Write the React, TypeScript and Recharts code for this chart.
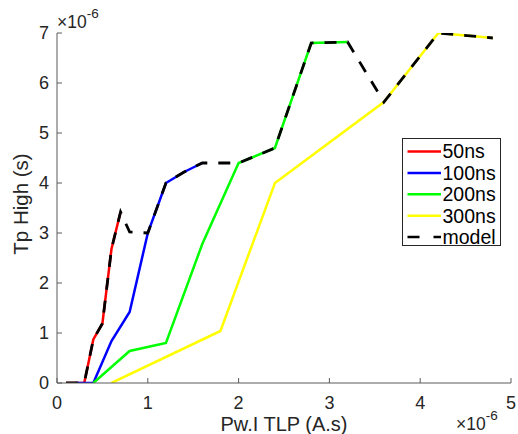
import React from 'react';
import { LineChart, Line, XAxis, YAxis, Legend, Label } from 'recharts';

type P = { x: number; y: number };

const xTicks = [0, 1, 2, 3, 4, 5];
const yTicks = [0, 1, 2, 3, 4, 5, 6, 7];

const s50: P[] = [
  { x: 0.1, y: 0 }, { x: 0.3, y: 0 }, { x: 0.4, y: 0.87 }, { x: 0.5, y: 1.19 },
  { x: 0.6, y: 2.68 }, { x: 0.7, y: 3.42 },
];
const s100: P[] = [
  { x: 0.2, y: 0 }, { x: 0.4, y: 0 }, { x: 0.6, y: 0.84 }, { x: 0.8, y: 1.42 },
  { x: 1.0, y: 3.0 }, { x: 1.2, y: 4.0 }, { x: 1.4, y: 4.22 }, { x: 1.6, y: 4.4 },
];
const s200: P[] = [
  { x: 0.4, y: 0 }, { x: 0.8, y: 0.64 }, { x: 1.2, y: 0.8 }, { x: 1.6, y: 2.78 },
  { x: 2.0, y: 4.4 }, { x: 2.4, y: 4.7 }, { x: 2.8, y: 6.8 }, { x: 3.2, y: 6.82 },
];
const s300: P[] = [
  { x: 0.6, y: 0 }, { x: 1.8, y: 1.04 }, { x: 2.4, y: 4.0 }, { x: 3.6, y: 5.62 },
  { x: 4.2, y: 7.0 }, { x: 4.8, y: 6.9 },
];
const model: P[] = [
  { x: 0.1, y: 0 }, { x: 0.3, y: 0 }, { x: 0.4, y: 0.87 }, { x: 0.5, y: 1.19 },
  { x: 0.6, y: 2.68 }, { x: 0.7, y: 3.42 }, { x: 0.8, y: 3.02 }, { x: 1.0, y: 3.0 },
  { x: 1.2, y: 4.0 }, { x: 1.4, y: 4.22 }, { x: 1.6, y: 4.4 }, { x: 2.0, y: 4.4 },
  { x: 2.4, y: 4.7 }, { x: 2.8, y: 6.8 }, { x: 3.2, y: 6.82 }, { x: 3.6, y: 5.62 },
  { x: 4.2, y: 7.0 }, { x: 4.8, y: 6.9 },
];

const seriesNames = ['50ns', '100ns', '200ns', '300ns', 'model'];
const seriesColors = ['#ff0000', '#0000ff', '#00ff00', '#ffff00', '#000000'];

const FONT = '"Liberation Sans", Arial, Helvetica, sans-serif';
const AXIS = '#5a5a5a';
const TEXT = '#262626';
const DASH = '12 11';
const TICK_LEN = 5;
const XM = 13;
const YM = 8;
const TICK_FS = 18;

const BottomTick = (props: any) => {
  const { x, y, payload } = props;
  const ay = y - XM;
  return (
    <g>
      <line x1={x} x2={x} y1={ay} y2={ay - TICK_LEN} stroke={AXIS} strokeWidth={1} />
      <text x={x} y={y} dy="0.71em" textAnchor="middle" fontSize={TICK_FS} fontFamily={FONT} fill={TEXT}>
        {payload.value}
      </text>
    </g>
  );
};

const LeftTick = (props: any) => {
  const { x, y, payload } = props;
  const ax = x + YM;
  return (
    <g>
      <line x1={ax} x2={ax + TICK_LEN} y1={y} y2={y} stroke={AXIS} strokeWidth={1} />
      <text x={x} y={y} dy="0.355em" textAnchor="end" fontSize={TICK_FS} fontFamily={FONT} fill={TEXT}>
        {payload.value}
      </text>
    </g>
  );
};

const TopTick = (props: any) => {
  const { x, y } = props;
  return <line x1={x} x2={x} y1={y} y2={y + TICK_LEN} stroke={AXIS} strokeWidth={1} />;
};

const RightTick = (props: any) => {
  const { x, y } = props;
  return <line x1={x - TICK_LEN} x2={x} y1={y} y2={y} stroke={AXIS} strokeWidth={1} />;
};

const LegendBox = () => (
  <svg width={99} height={109} style={{ display: 'block' }}>
    <rect x={0.5} y={0.5} width={98} height={107} fill="#fff" stroke={TEXT} strokeWidth={1} />
    {seriesNames.map((n, i) => {
      const cy = 13.5 + i * 21.4;
      return (
        <g key={n}>
          <line
            x1={5.5}
            x2={39}
            y1={cy}
            y2={cy}
            stroke={seriesColors[i]}
            strokeWidth={2.5}
            strokeDasharray={i === 4 ? '12 14' : undefined}
          />
          <text x={40.5} y={cy + 6.8} fontSize={19.5} fontFamily={FONT} fill="#000">
            {n}
          </text>
        </g>
      );
    })}
  </svg>
);

export default function App() {
  return (
    <div style={{ position: 'absolute', left: 0, top: 0, width: 518, height: 434, background: '#fff' }}>
      <LineChart
        width={518}
        height={434}
        margin={{ top: 33, right: 7, bottom: 0, left: 0 }}
        style={{ fontFamily: FONT }}
      >
        <XAxis
          xAxisId={0}
          dataKey="x"
          type="number"
          domain={[0, 5]}
          ticks={xTicks}
          allowDataOverflow
          height={51}
          tickSize={0}
          tickMargin={XM}
          stroke={AXIS}
          tickLine={false}
          tick={<BottomTick />}
        >
          <Label
            value="Pw.I TLP (A.s)"
            position="insideBottom"
            offset={3}
            style={{ fill: TEXT, fontSize: 20, fontFamily: FONT }}
          />
        </XAxis>
        <XAxis
          xAxisId="top"
          orientation="top"
          dataKey="x"
          type="number"
          domain={[0, 5]}
          ticks={xTicks}
          height={0}
          tickSize={0}
          tickMargin={0}
          tickLine={false}
          tick={<TopTick />}
          stroke={AXIS}
        />
        <YAxis
          yAxisId={0}
          type="number"
          domain={[0, 7]}
          ticks={yTicks}
          allowDataOverflow
          width={57}
          tickSize={0}
          tickMargin={YM}
          stroke={AXIS}
          tickLine={false}
          tick={<LeftTick />}
        >
          <Label
            content={(props: any) => {
              const vb = props.viewBox || { y: 33, height: 350 };
              const cx = 28;
              const cy = vb.y + vb.height / 2 - 4;
              return (
                <text
                  x={cx}
                  y={cy}
                  transform={`rotate(-90 ${cx} ${cy})`}
                  textAnchor="middle"
                  fontSize={20.5}
                  fontFamily={FONT}
                  fill={TEXT}
                >
                  Tp High (s)
                </text>
              );
            }}
          />
        </YAxis>
        <YAxis
          yAxisId="right"
          orientation="right"
          type="number"
          domain={[0, 7]}
          ticks={yTicks}
          width={0}
          tickSize={0}
          tickMargin={0}
          tickLine={false}
          tick={<RightTick />}
          stroke={AXIS}
        />
        <Line data={s50} dataKey="y" name="50ns" stroke={seriesColors[0]} strokeWidth={2.5} dot={false} isAnimationActive={false} />
        <Line data={s100} dataKey="y" name="100ns" stroke={seriesColors[1]} strokeWidth={2.5} dot={false} isAnimationActive={false} />
        <Line data={s200} dataKey="y" name="200ns" stroke={seriesColors[2]} strokeWidth={2.5} dot={false} isAnimationActive={false} />
        <Line data={s300} dataKey="y" name="300ns" stroke={seriesColors[3]} strokeWidth={2.5} dot={false} isAnimationActive={false} />
        <Line data={model} dataKey="y" name="model" stroke={seriesColors[4]} strokeWidth={2.8} strokeDasharray={DASH} dot={false} isAnimationActive={false} />
        <Legend
          layout="vertical"
          align="center"
          verticalAlign="middle"
          wrapperStyle={{ left: 402, top: 138, width: 99, height: 109 }}
          content={() => <LegendBox />}
        />
      </LineChart>
      <svg
        width={518}
        height={434}
        style={{ position: 'absolute', left: 0, top: 0, pointerEvents: 'none' }}
      >
        <text x={57} y={28} fontFamily={FONT} fill={TEXT} fontSize={17.5}>
          ×10<tspan dy={-10} fontSize={13.5}>-6</tspan>
        </text>
        <text x={456} y={430} fontFamily={FONT} fill={TEXT} fontSize={17.5}>
          ×10<tspan dy={-10} fontSize={13.5}>-6</tspan>
        </text>
      </svg>
    </div>
  );
}
